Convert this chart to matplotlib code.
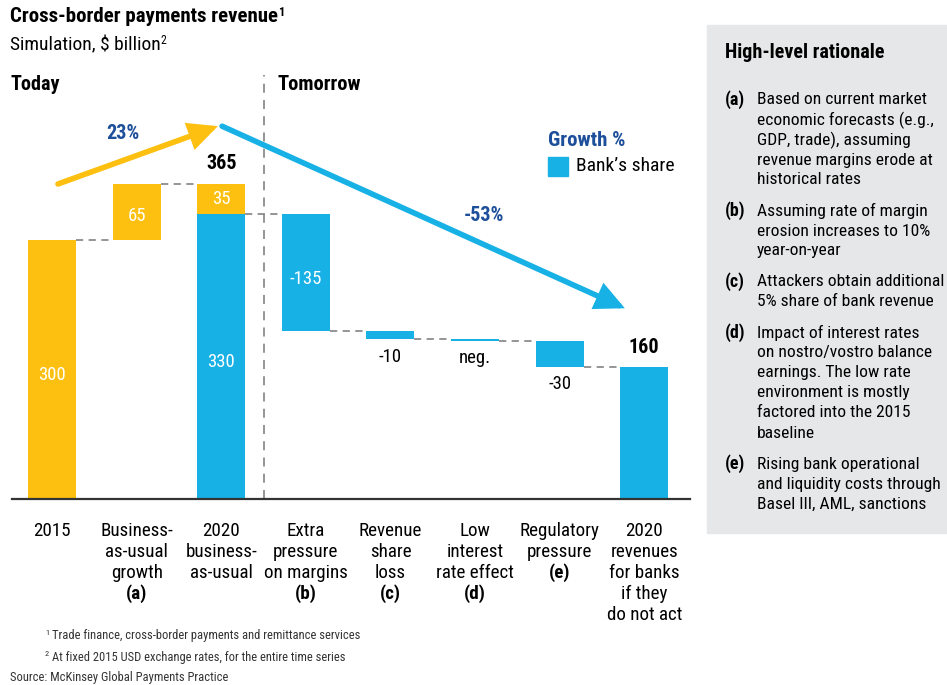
import matplotlib
matplotlib.use("Agg")
import matplotlib.pyplot as plt
from matplotlib.patches import Rectangle, FancyArrowPatch
from matplotlib import font_manager

# ---- data ----
categories = ["2015", "Business-\nas-usual\ngrowth", "2020\nbusiness-\nas-usual",
              "Extra\npressure\non margins", "Revenue\nshare\nloss", "Low\ninterest\nrate effect",
              "Regulatory\npressure", "2020\nrevenues\nfor banks\nif they\ndo not act"]
category_refs = ["", "(a)", "", "(b)", "(c)", "(d)", "(e)", ""]
base_2015 = 300
bau_growth = 65
bau_2020_total = 365
bank_share_2020 = 330
attacker_share_2020 = 35
changes = [-135, -10, -2, -30]
change_labels = ["-135", "-10", "neg.", "-30"]
final_label = "160"
growth_today = "23%"
growth_tomorrow = "-53%"

rationale = [
    ("(a)", "Based on current market\neconomic forecasts (e.g.,\nGDP, trade), assuming\nrevenue margins erode at\nhistorical rates"),
    ("(b)", "Assuming rate of margin\nerosion increases to 10%\nyear-on-year"),
    ("(c)", "Attackers obtain additional\n5% share of bank revenue"),
    ("(d)", "Impact of interest rates\non nostro/vostro balance\nearnings. The low rate\nenvironment is mostly\nfactored into the 2015\nbaseline"),
    ("(e)", "Rising bank operational\nand liquidity costs through\nBasel III, AML, sanctions"),
]

YELLOW = "#FDC010"
BLUE = "#17B1E5"
DARK_BLUE = "#1D4F9A"
GREY_DASH = "#8C8C8C"
PANEL = "#E6E7E8"

# pick a condensed sans if one is installed
names = {f.name for f in font_manager.fontManager.ttflist}
FAMILY = "Roboto"
for cand in ["Roboto Condensed", "Archivo Narrow", "PT Sans Narrow", "Liberation Sans Narrow",
             "Fira Sans Condensed", "IBM Plex Sans Condensed", "Encode Sans Condensed",
             "Asap Condensed", "Barlow Semi Condensed", "Open Sans Condensed"]:
    if cand in names:
        FAMILY = cand
        break
plt.rcParams["font.family"] = [FAMILY, "DejaVu Sans"]

W, H = 947, 685
fig = plt.figure(figsize=(W / 100, H / 100), dpi=100)
renderer = fig.canvas.get_renderer()


def fx(px):
    return px / W


def fy(py):
    return 1 - py / H


def text_sup(x, y, s, sup, size, weight="normal", color="black", sup_dy=5):
    t = fig.text(fx(x), fy(y), s, ha="left", va="center", fontsize=size, fontweight=weight, color=color)
    bb = t.get_window_extent(renderer)
    fig.text(bb.x1 / W, fy(y - sup_dy), sup, ha="left", va="center",
             fontsize=size * 0.6, fontweight=weight, color=color)


# axes: x from pixel 12 to 690, baseline at pixel 499, top at pixel 60
ax = fig.add_axes([fx(12), fy(499), fx(690) - fx(12), fy(60) - fy(499)])
ax.set_xlim(-0.473, 7.54)
ax.set_ylim(0, (499 - 60) / 0.863)
ax.axis("off")
PX_PER_UNIT = 0.863

bw = 0.567
# today
ax.bar(0, base_2015, width=bw, color=YELLOW)
ax.bar(1, bau_growth, bottom=base_2015, width=bw, color=YELLOW)
ax.bar(2, bank_share_2020, width=bw, color=BLUE)
ax.bar(2, attacker_share_2020, bottom=bank_share_2020, width=bw, color=YELLOW)

# tomorrow
level = bank_share_2020
levels = []
for i, c in enumerate(changes):
    ax.bar(3 + i, c, bottom=level, width=bw, color=BLUE)
    levels.append((level, level + c))
    level += c
final_value = level
ax.bar(7, final_value, width=bw, color=BLUE)

# connectors
dash = dict(color=GREY_DASH, lw=1.3, ls=(0, (4, 3)))
conn = [(0, base_2015), (1, base_2015 + bau_growth), (2, bank_share_2020)]
for i, (a, b) in enumerate(levels):
    conn.append((3 + i, b))
for i, yv in conn:
    ax.plot([i + bw / 2, i + 1 - bw / 2], [yv, yv], **dash)

# section divider
ax.plot([2.5, 2.5], [0, 491], color=GREY_DASH, lw=1.3, ls=(0, (5, 4)))
# baseline
ax.plot([-0.473, 7.54], [0, 0], color="#333333", lw=1.6, clip_on=False)

# bar labels
lab = dict(ha="center", va="center", fontsize=13.5)
ax.text(0, base_2015 / 2 - 6, str(base_2015), color="white", **lab)
ax.text(1, base_2015 + bau_growth / 2 - 5, str(bau_growth), color="white", **lab)
ax.text(2, bank_share_2020 + attacker_share_2020 / 2, str(attacker_share_2020), color="white", **lab)
ax.text(2, bank_share_2020 / 2 - 6, str(bank_share_2020), color="white", **lab)
ax.text(2, bau_2020_total + 24, str(bau_2020_total), ha="center", va="center",
        fontsize=14.5, fontweight="bold")
ax.text(3, (levels[0][0] + levels[0][1]) / 2 - 8, change_labels[0], color="white", **lab)
for i in range(1, 4):
    ax.text(3 + i, levels[i][1] - 20, change_labels[i], ha="center", va="center", fontsize=13.5)
ax.text(7, final_value + 23, final_label, ha="center", va="center", fontsize=14.5, fontweight="bold")

# category labels, one line at a time (first line centre 31 px under the baseline, 21 px pitch)
for i, (cat, ref) in enumerate(zip(categories, category_refs)):
    lines = cat.split("\n")
    for k, ln in enumerate(lines):
        ax.text(i, -(32 + 21 * k) / PX_PER_UNIT, ln, ha="center", va="center", fontsize=13.7, clip_on=False)
    if ref:
        ax.text(i, -(32 + 21 * len(lines)) / PX_PER_UNIT, ref, ha="center", va="center", fontsize=13.7,
                fontweight="bold", clip_on=False)

# growth arrows
ax.add_patch(FancyArrowPatch((0.07, 365), (1.96, 432), arrowstyle="-|>,head_length=0.75,head_width=0.36",
                             mutation_scale=20, lw=4, color=YELLOW, shrinkA=0, shrinkB=0,
                             joinstyle="miter", clip_on=False))
ax.add_patch(FancyArrowPatch((2.01, 432), (6.77, 221), arrowstyle="-|>,head_length=0.75,head_width=0.36",
                             mutation_scale=20, lw=4, color=BLUE, shrinkA=0, shrinkB=0,
                             joinstyle="miter", clip_on=False))
ax.text(0.84, 423, growth_today, ha="center", va="center", fontsize=14.5, fontweight="bold", color=DARK_BLUE)
ax.text(5.11, 329, growth_tomorrow, ha="center", va="center", fontsize=14.5, fontweight="bold", color=DARK_BLUE)

# legend
fig.text(fx(548), fy(140), "Growth %", ha="left", va="center", fontsize=15, fontweight="bold", color=DARK_BLUE)
fig.patches.append(Rectangle((fx(548), fy(176)), fx(20), fy(0) - fy(19), transform=fig.transFigure,
                             color=BLUE, figure=fig))
fig.text(fx(576), fy(166), "Bank\u2019s share", ha="left", va="center", fontsize=14)

# titles
text_sup(10, 17, "Cross-border payments revenue", "1", 15, weight="bold")
text_sup(10, 45, "Simulation, $ billion", "2", 14)
fig.text(fx(10), fy(84), "Today", ha="left", va="center", fontsize=14.5, fontweight="bold")
fig.text(fx(278), fy(84), "Tomorrow", ha="left", va="center", fontsize=14.8, fontweight="bold")

# right panel
fig.patches.append(Rectangle((fx(707), fy(533)), fx(240), fy(25) - fy(533), transform=fig.transFigure,
                             color=PANEL, figure=fig, zorder=0))
fig.text(fx(725), fy(53), "High-level rationale", ha="left", va="center", fontsize=14.5, fontweight="bold")
y = 100
for ref, txt in rationale:
    fig.text(fx(725), fy(y), ref, ha="left", va="center", fontsize=13, fontweight="bold")
    for ln in txt.split("\n"):
        fig.text(fx(757), fy(y), ln, ha="left", va="center", fontsize=12.6)
        y += 20
    y += 11

# footnotes
fig.text(fx(52), fy(636), "Trade finance, cross-border payments and remittance services",
         ha="left", va="center", fontsize=9, color="#333333")
fig.text(fx(45), fy(633), "1", ha="left", va="center", fontsize=6, color="#333333")
fig.text(fx(52), fy(657), "At fixed 2015 USD exchange rates, for the entire time series",
         ha="left", va="center", fontsize=9, color="#333333")
fig.text(fx(45), fy(654), "2", ha="left", va="center", fontsize=6, color="#333333")
fig.text(fx(10), fy(677), "Source: McKinsey Global Payments Practice", ha="left", va="center",
         fontsize=9, color="#333333")

fig.savefig("out.png", dpi=100)
